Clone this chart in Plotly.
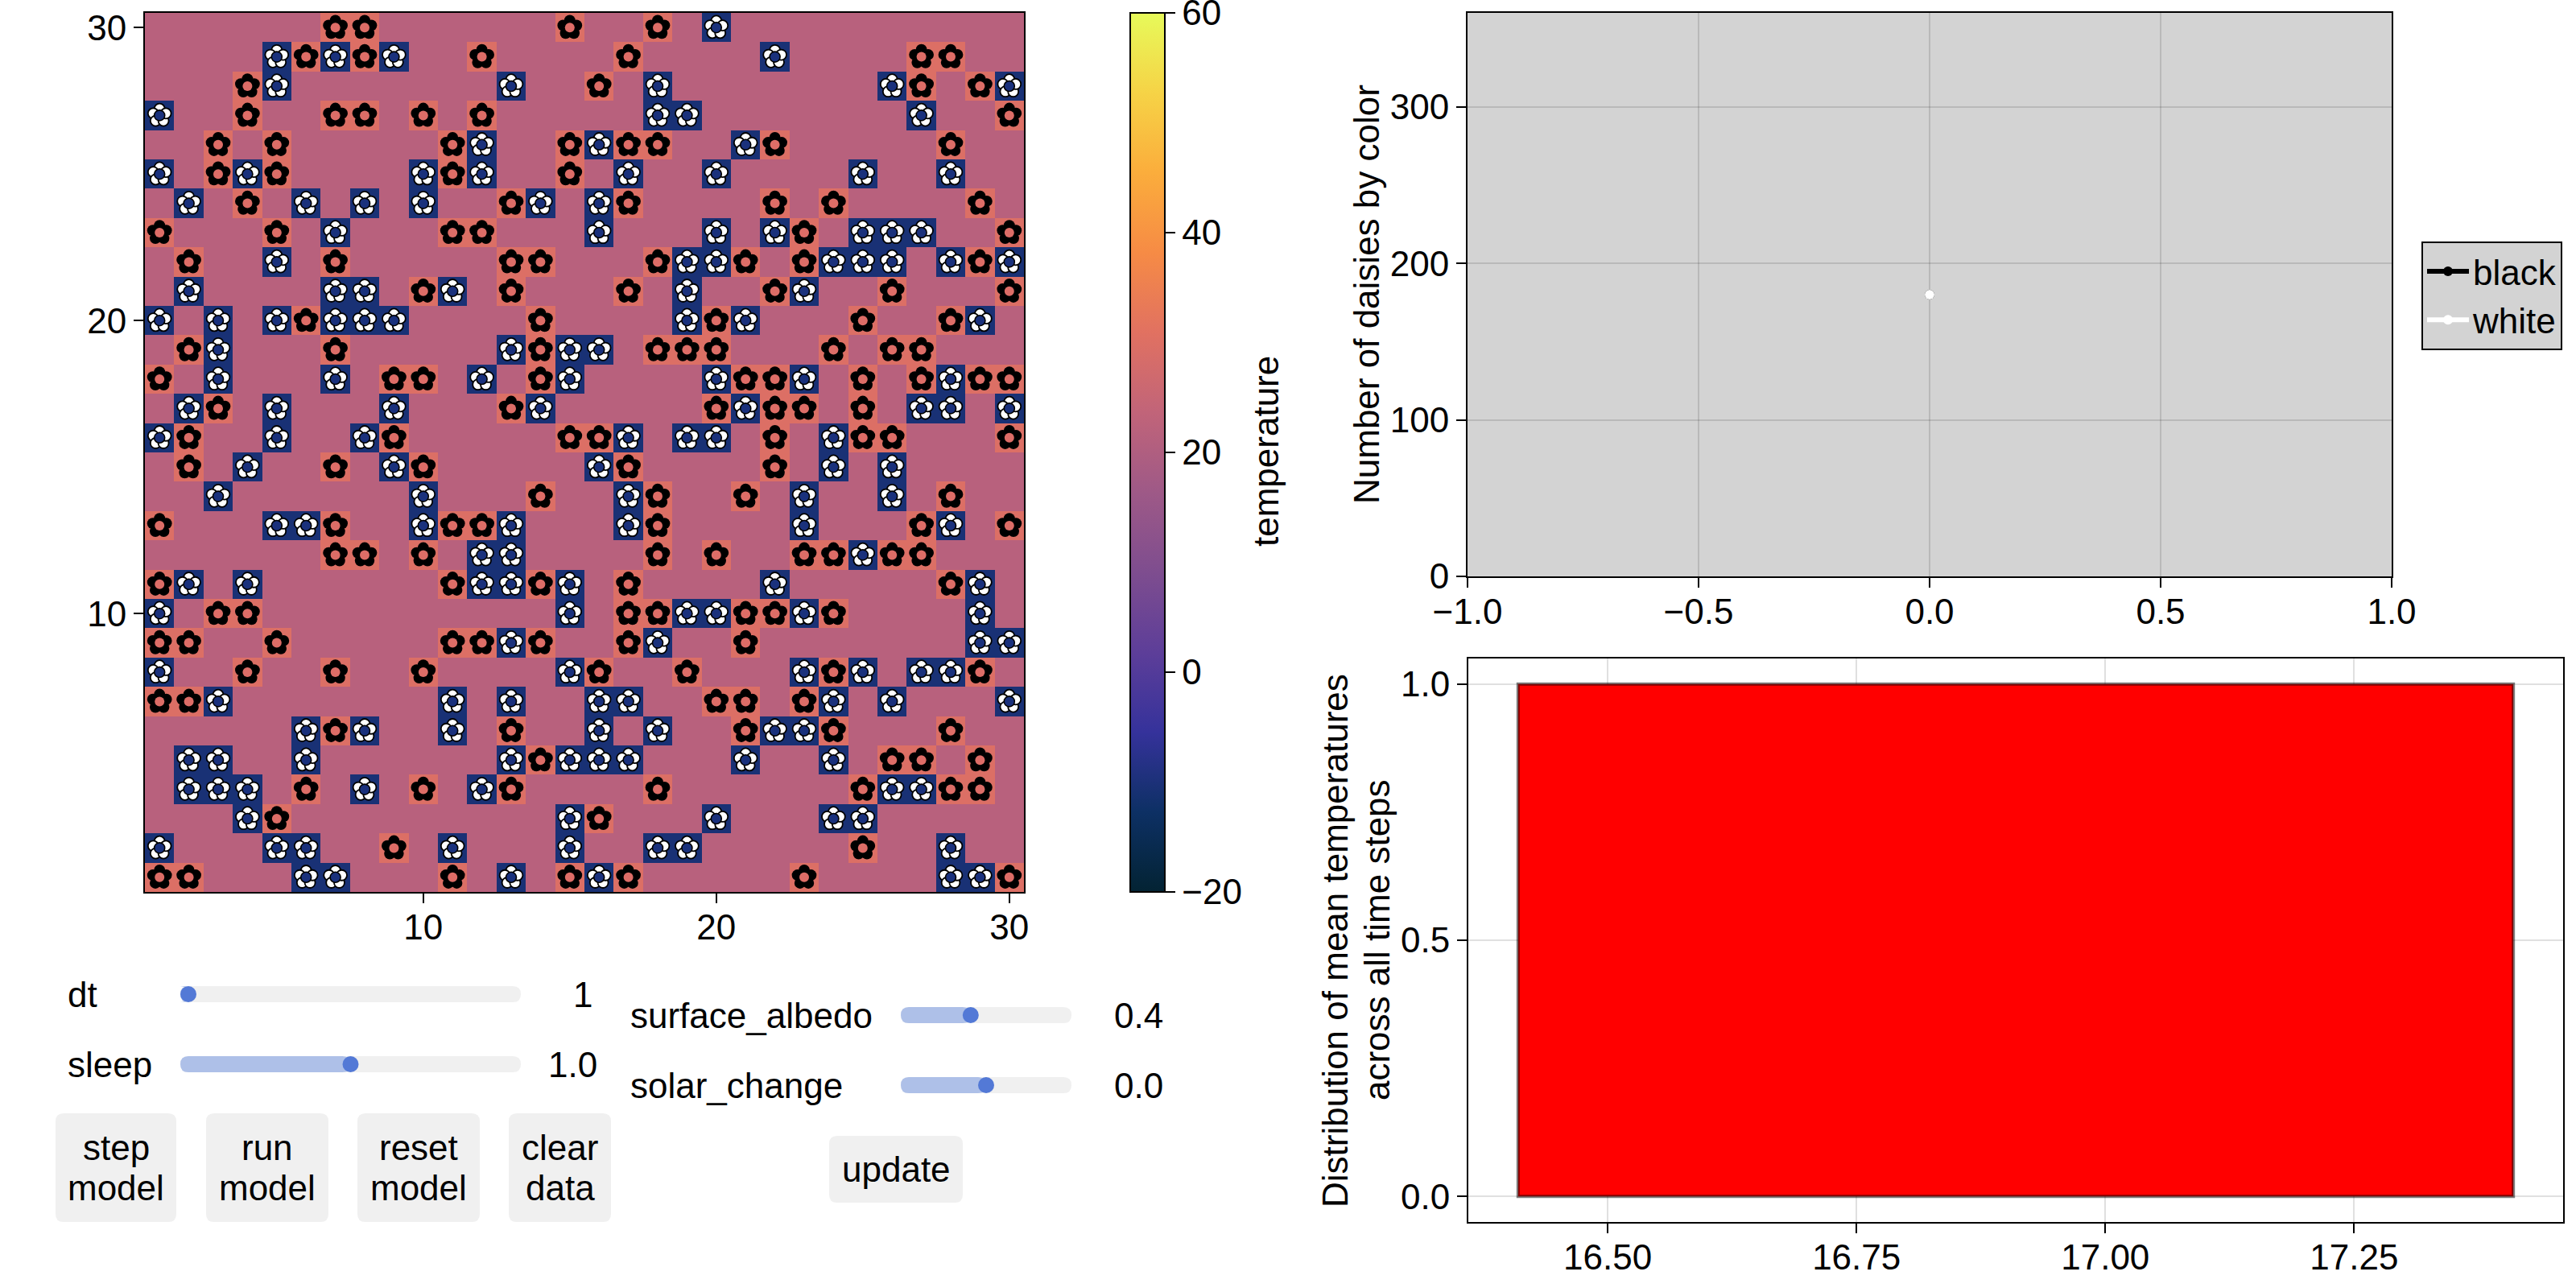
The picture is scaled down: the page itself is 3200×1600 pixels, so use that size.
import numpy as np
import plotly.graph_objects as go

W, H = 3200, 1600
FONT = "Liberation Sans"
FS = 44

# daisy positions, one list of columns per grid row, row 30 first
black_by_row = [
    [7, 8, 15, 18],
    [6, 8, 12, 17, 27, 28],
    [4, 16, 27, 29],
    [4, 7, 8, 10, 12, 30],
    [3, 5, 11, 15, 17, 18, 22, 28],
    [3, 5, 11, 15],
    [4, 13, 17, 22, 24, 29],
    [1, 5, 11, 12, 23, 30],
    [2, 7, 13, 14, 18, 21, 23, 29],
    [10, 13, 17, 22, 26, 30],
    [6, 14, 20, 25, 28],
    [2, 7, 14, 18, 19, 20, 24, 26, 27],
    [1, 9, 10, 14, 21, 22, 25, 27, 29, 30],
    [3, 13, 20, 22, 23, 25],
    [2, 9, 15, 16, 22, 25, 26, 30],
    [2, 7, 10, 17, 22],
    [14, 18, 21, 28],
    [1, 7, 11, 12, 18, 27, 30],
    [7, 8, 10, 18, 20, 23, 24, 26, 27],
    [1, 11, 14, 17, 28],
    [3, 4, 17, 18, 21, 22, 24],
    [1, 2, 5, 11, 12, 14, 17, 21],
    [4, 7, 10, 16, 19, 24, 29],
    [1, 2, 20, 21, 23],
    [7, 13, 21, 24, 28],
    [14, 26, 27, 29],
    [6, 10, 13, 18, 25, 28, 29],
    [5, 16],
    [9, 25],
    [1, 2, 11, 15, 17, 23, 30],
]
white_by_row = [
    [20],
    [5, 7, 9, 22],
    [5, 13, 18, 26, 30],
    [1, 18, 19, 27],
    [12, 16, 21],
    [1, 4, 10, 12, 17, 20, 25, 28],
    [2, 6, 8, 10, 14, 16],
    [7, 16, 20, 22, 25, 26, 27],
    [5, 19, 20, 24, 25, 26, 28, 30],
    [2, 7, 8, 11, 19, 23],
    [1, 3, 5, 7, 8, 9, 19, 21, 29],
    [3, 13, 15, 16],
    [3, 7, 12, 15, 20, 23, 28],
    [2, 5, 9, 14, 21, 27, 28, 30],
    [1, 5, 8, 17, 19, 20, 24],
    [4, 9, 16, 24, 26],
    [3, 10, 17, 23, 26],
    [5, 6, 10, 13, 17, 23, 28],
    [12, 13, 25],
    [2, 4, 12, 13, 15, 22, 29],
    [1, 15, 19, 20, 23, 29],
    [13, 18, 29, 30],
    [1, 15, 23, 25, 27, 28],
    [3, 11, 13, 16, 17, 24, 26, 30],
    [6, 8, 11, 16, 18, 22, 23],
    [2, 3, 6, 13, 15, 16, 17, 21, 24],
    [2, 3, 4, 8, 12, 26, 27],
    [4, 15, 20, 24, 25],
    [1, 5, 6, 11, 15, 18, 19, 28],
    [6, 7, 13, 16, 28, 29],
]
bare_temp = 21.8
black_temp = 29.8
white_temp = -10.5

steps = [0]
black_counts = [180]
white_counts = [180]

mean_temp_center = [16.91]
mean_temp_density = [1.0]

slider_names = ["dt", "sleep", "surface_albedo", "solar_change"]
slider_text = ["1", "1.0", "0.4", "0.0"]
slider_values = [1, 1.0, 0.4, 0.0]
slider_mins = [1, 0.0, 0.0, -1.0]
slider_maxs = [10, 2.0, 1.0, 1.0]


def px_x(x):
    return x / W


def px_y(y):
    return 1 - y / H


def rounded(x0, y0, x1, y1, r):
    """Rectangle with soft corners, in paper coordinates"""
    X = [px_x(v) for v in (x0, x0 + r, x1 - r, x1)]
    Y = [px_y(v) for v in (y0, y0 + r, y1 - r, y1)]
    return (f"M{X[1]},{Y[0]} L{X[2]},{Y[0]} Q{X[3]},{Y[0]} {X[3]},{Y[1]} "
            f"L{X[3]},{Y[2]} Q{X[3]},{Y[3]} {X[2]},{Y[3]} "
            f"L{X[1]},{Y[3]} Q{X[0]},{Y[3]} {X[0]},{Y[2]} "
            f"L{X[0]},{Y[1]} Q{X[0]},{Y[0]} {X[1]},{Y[0]} Z")


def text(fig, s, x, y, anchor="center", angle=0):
    fig.add_annotation(text=s, x=px_x(x), y=px_y(y), xref="paper", yref="paper",
                       xanchor=anchor, yanchor="middle", showarrow=False,
                       textangle=angle, font=dict(family=FONT, size=FS, color="black"))


def centres(by_row):
    xs, ys = [], []
    for i, cols in enumerate(by_row):
        for c in cols:
            xs.append(c)
            ys.append(30 - i)
    return np.array(xs, float), np.array(ys, float)


def petals(xs, ys, dist_px, cell_px=36.4):
    """Five petal centres around each flower, first one pointing up"""
    px, py = [], []
    for k in range(5):
        a = np.pi / 2 + k * 2 * np.pi / 5
        px.append(xs + dist_px / cell_px * np.cos(a))
        py.append(ys + dist_px / cell_px * np.sin(a))
    return np.column_stack(px).ravel(), np.column_stack(py).ravel()


fig = go.Figure()

# temperature grid
z = np.full((30, 30), bare_temp)
bx, by = centres(black_by_row)
wx, wy = centres(white_by_row)
z[by.astype(int) - 1, bx.astype(int) - 1] = black_temp
z[wy.astype(int) - 1, wx.astype(int) - 1] = white_temp

fig.add_trace(go.Heatmap(
    x=np.arange(1, 31), y=np.arange(1, 31), z=z, zmin=-20, zmax=60,
    colorscale="Thermal", hoverinfo="skip",
    colorbar=dict(
        x=px_x(1404), xanchor="left", xpad=0, y=px_y(1108), yanchor="bottom", ypad=0,
        len=(1108 - 16) / H, thickness=43, outlinewidth=2, outlinecolor="black",
        tickvals=[-20, 0, 20, 40, 60], ticklabeloverflow="allow",
        ticks="outside", ticklen=12, tickwidth=2,
        tickcolor="black", tickfont=dict(family=FONT, size=FS, color="black"),
    ),
))

# black daisies
px_, py_ = petals(bx, by, 8.8)
fig.add_trace(go.Scatter(x=px_, y=py_, mode="markers", showlegend=False, hoverinfo="skip",
                         marker=dict(size=14, color="black", line=dict(width=0))))
fig.add_trace(go.Scatter(x=bx, y=by, mode="markers", showlegend=False, hoverinfo="skip",
                         marker=dict(size=12, color="#DD6D67", line=dict(width=0))))

# white daisies
px_, py_ = petals(wx, wy, 8.3)
fig.add_trace(go.Scatter(x=px_, y=py_, mode="markers", showlegend=False, hoverinfo="skip",
                         marker=dict(size=13, color="white", line=dict(width=1.8, color="black"))))
fig.add_trace(go.Scatter(x=wx, y=wy, mode="markers", showlegend=False, hoverinfo="skip",
                         marker=dict(size=13, color="#1A317C", line=dict(width=1.6, color="black"))))

# daisy counts
fig.add_trace(go.Scatter(x=steps, y=black_counts, mode="lines+markers", name="black",
                         xaxis="x2", yaxis="y2", line=dict(color="black", width=6),
                         marker=dict(color="black", size=12)))
fig.add_trace(go.Scatter(x=steps, y=white_counts, mode="lines+markers", name="white",
                         xaxis="x2", yaxis="y2", line=dict(color="white", width=6),
                         marker=dict(color="white", size=12)))

# histogram of mean temperatures
fig.add_trace(go.Bar(x=mean_temp_center, y=mean_temp_density, width=1.0, xaxis="x3", yaxis="y3",
                     showlegend=False, marker=dict(color="#FF0000",
                                                   line=dict(color="rgba(0,0,0,0.5)", width=4))))

tick_style = dict(ticks="outside", ticklen=12, tickwidth=2, tickcolor="black",
                  showline=True, linecolor="black", linewidth=2, mirror=True, zeroline=False,
                  tickfont=dict(family=FONT, size=FS, color="black"))
grid = dict(showgrid=True, gridcolor="rgba(0,0,0,0.12)", gridwidth=2)

fig.update_layout(
    width=W, height=H, margin=dict(l=0, r=0, t=0, b=0, autoexpand=False),
    paper_bgcolor="white", plot_bgcolor="white",
    font=dict(family=FONT, size=FS, color="black"),
    xaxis=dict(domain=[px_x(180), px_x(1272)], range=[0.5, 30.5], tickvals=[10, 20, 30],
               showgrid=False, ticklabelstandoff=-8, **tick_style),
    yaxis=dict(domain=[px_y(1108), px_y(16)], range=[0.5, 30.5], tickvals=[10, 20, 30],
               showgrid=False, **tick_style),
    xaxis2=dict(domain=[px_x(1823), px_x(2971)], range=[-1, 1], anchor="y2", ticklabelstandoff=-8,
                tickvals=[-1, -0.5, 0, 0.5, 1], tickformat=".1f", **grid, **tick_style),
    yaxis2=dict(domain=[px_y(716), px_y(16)], range=[0, 360], anchor="x2",
                tickvals=[0, 100, 200, 300], **grid, **tick_style),
    xaxis3=dict(domain=[px_x(1824), px_x(3184)], range=[16.36, 17.46], anchor="y3", ticklabelstandoff=-8,
                tickvals=[16.5, 16.75, 17, 17.25], tickformat=".2f", **grid, **tick_style),
    yaxis3=dict(domain=[px_y(1518), px_y(818)], range=[-0.05, 1.05], anchor="x3",
                tickvals=[0, 0.5, 1], tickformat=".1f", **grid, **tick_style),
    legend=dict(x=px_x(3008), xanchor="left", y=px_y(300), yanchor="top", bgcolor="#D3D3D3",
                bordercolor="black", borderwidth=2, itemwidth=52,
                font=dict(family=FONT, size=FS, color="black")),
)
fig.add_shape(type="rect", xref="paper", yref="paper", layer="below",
              x0=px_x(1823), x1=px_x(2971), y0=px_y(716), y1=px_y(16),
              fillcolor="#D3D3D3", line=dict(width=0))

# axis titles
text(fig, "temperature", 1572, 561, angle=-90)
text(fig, "Number of daisies by color", 1697, 366, angle=-90)
text(fig, "Distribution of mean temperatures", 1658, 1168, angle=-90)
text(fig, "across all time steps", 1710, 1168, angle=-90)

# sliders, positions in pixels of the page
track_x = [(224, 647), (224, 647), (1119, 1331), (1119, 1331)]
track_y = [1235, 1322, 1261, 1348]
label_x = [82, 82, 781, 781]
value_x = [(738, "right"), (744, "right"), (1382, "left"), (1382, "left")]

for i, name in enumerate(slider_names):
    x0, x1 = track_x[i]
    yc = track_y[i]
    frac = (slider_values[i] - slider_mins[i]) / (slider_maxs[i] - slider_mins[i])
    knob = x0 + 10 + frac * (x1 - x0 - 20)
    fig.add_shape(type="path", path=rounded(x0, yc - 10, x1, yc + 10, 10), xref="paper", yref="paper",
                  fillcolor="#F0F0F0", line=dict(width=0))
    fig.add_shape(type="path", path=rounded(x0, yc - 10, knob, yc + 10, 10), xref="paper", yref="paper",
                  fillcolor="#AEC0E8", line=dict(width=0))
    fig.add_shape(type="circle", xref="paper", yref="paper", x0=px_x(knob - 10), x1=px_x(knob + 10),
                  y0=px_y(yc + 10), y1=px_y(yc - 10), fillcolor="#5379D6", line=dict(width=0))
    text(fig, name, label_x[i], yc, anchor="left")
    text(fig, slider_text[i], value_x[i][0], yc, anchor=value_x[i][1])

# buttons
buttons = [(69, 219, 1383, 1518, ["step", "model"]),
           (256, 408, 1383, 1518, ["run", "model"]),
           (444, 596, 1383, 1518, ["reset", "model"]),
           (632, 759, 1383, 1518, ["clear", "data"]),
           (1030, 1196, 1411, 1494, ["update"])]
for x0, x1, y0, y1, lines in buttons:
    fig.add_shape(type="path", path=rounded(x0, y0, x1, y1, 10), xref="paper", yref="paper",
                  fillcolor="#F0F0F0", line=dict(width=0))
    mid = (y0 + y1) / 2
    for j, s in enumerate(lines):
        text(fig, s, (x0 + x1) / 2, mid + (j - (len(lines) - 1) / 2) * 50)

fig.write_html("out.html", post_script="document.body.style.margin='0';",
               config={"displayModeBar": False})
